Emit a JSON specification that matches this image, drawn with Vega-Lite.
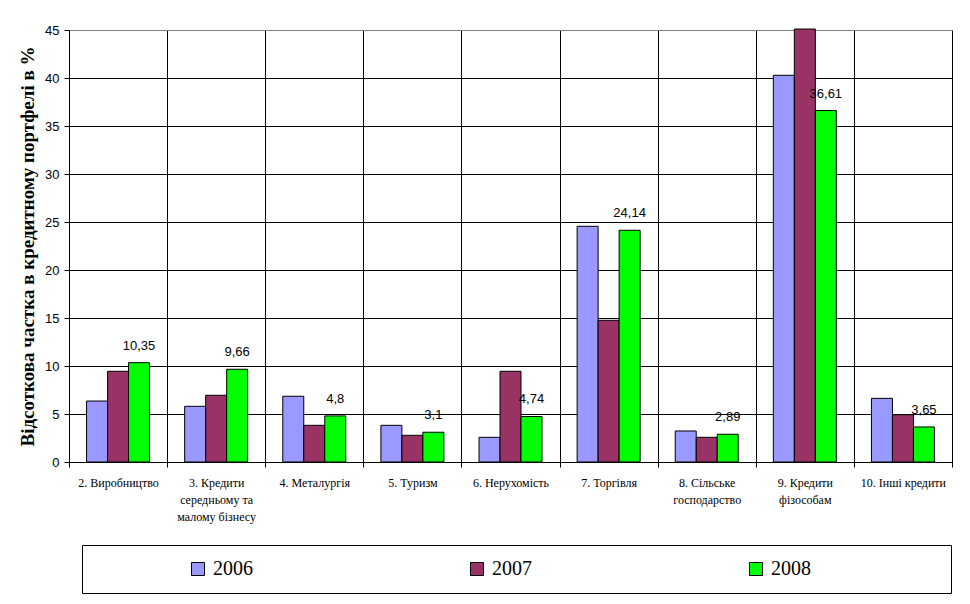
{
  "$schema": "https://vega.github.io/schema/vega-lite/v6.json",
  "width": 883,
  "height": 432,
  "autosize": {"type": "none"},
  "padding": {"left": 69, "top": 30, "right": 18, "bottom": 142},
  "background": "white",
  "config": {
    "view": {"stroke": "#808080", "strokeWidth": 1},
    "locale": {"number": {"decimal": ",", "thousands": " ", "grouping": [3], "currency": ["", ""]}}
  },
  "data": {
    "values": [
      {"category": "2. Виробництво", "year": "2006", "value": 6.35},
      {"category": "2. Виробництво", "year": "2007", "value": 9.45},
      {"category": "2. Виробництво", "year": "2008", "value": 10.35},
      {"category": "3. Кредити|середньому та|малому бізнесу", "year": "2006", "value": 5.8},
      {"category": "3. Кредити|середньому та|малому бізнесу", "year": "2007", "value": 6.95},
      {"category": "3. Кредити|середньому та|малому бізнесу", "year": "2008", "value": 9.66},
      {"category": "4. Металургія", "year": "2006", "value": 6.85},
      {"category": "4. Металургія", "year": "2007", "value": 3.82},
      {"category": "4. Металургія", "year": "2008", "value": 4.8},
      {"category": "5. Туризм", "year": "2006", "value": 3.82},
      {"category": "5. Туризм", "year": "2007", "value": 2.78},
      {"category": "5. Туризм", "year": "2008", "value": 3.1},
      {"category": "6. Нерухомість", "year": "2006", "value": 2.57},
      {"category": "6. Нерухомість", "year": "2007", "value": 9.45},
      {"category": "6. Нерухомість", "year": "2008", "value": 4.74},
      {"category": "7. Торгівля", "year": "2006", "value": 24.55},
      {"category": "7. Торгівля", "year": "2007", "value": 14.76},
      {"category": "7. Торгівля", "year": "2008", "value": 24.14},
      {"category": "8. Сільське|господарство", "year": "2006", "value": 3.23},
      {"category": "8. Сільське|господарство", "year": "2007", "value": 2.57},
      {"category": "8. Сільське|господарство", "year": "2008", "value": 2.89},
      {"category": "9. Кредити|фізособам", "year": "2006", "value": 40.28},
      {"category": "9. Кредити|фізособам", "year": "2007", "value": 45.1},
      {"category": "9. Кредити|фізособам", "year": "2008", "value": 36.61},
      {"category": "10. Інші кредити", "year": "2006", "value": 6.63},
      {"category": "10. Інші кредити", "year": "2007", "value": 4.93},
      {"category": "10. Інші кредити", "year": "2008", "value": 3.65}
    ]
  },
  "encoding": {
    "x": {
      "field": "category",
      "type": "nominal",
      "sort": null,
      "scale": {"paddingInner": 0, "paddingOuter": 0},
      "axis": {
        "title": null,
        "labelAngle": 0,
        "labelExpr": "split(datum.label, '|')",
        "labelFont": "Liberation Serif",
        "labelFontSize": 12,
        "labelColor": "black",
        "labelLineHeight": 17,
        "labelPadding": 10,
        "labelLimit": 200,
        "tickBand": "extent",
        "tickSize": 5,
        "tickColor": "black",
        "domainColor": "black",
        "grid": true,
        "gridColor": "black",
        "gridOpacity": 1
      }
    },
    "xOffset": {"field": "year", "type": "nominal", "scale": {"paddingInner": 0, "paddingOuter": 0.836}},
    "y": {
      "field": "value",
      "type": "quantitative",
      "scale": {"domain": [0, 45], "nice": false},
      "axis": {
        "title": "Відсоткова частка в кредитному портфелі в %",
        "titleFont": "Liberation Serif",
        "titleFontSize": 19,
        "titleFontWeight": "bold",
        "titleColor": "black",
        "titlePadding": 7,
        "values": [0, 5, 10, 15, 20, 25, 30, 35, 40, 45],
        "labelFont": "Liberation Sans",
        "labelFontSize": 13,
        "labelColor": "black",
        "labelPadding": 5,
        "tickSize": 5,
        "tickColor": "black",
        "domainColor": "black",
        "grid": true,
        "gridColor": {"condition": {"test": "datum.value == 45", "value": "#808080"}, "value": "black"},
        "gridOpacity": 1
      }
    }
  },
  "layer": [
    {
      "mark": {"type": "bar", "stroke": "black", "strokeWidth": 1, "clip": false},
      "encoding": {
        "color": {
          "field": "year",
          "type": "nominal",
          "scale": {"domain": ["2006", "2007", "2008"], "range": ["#9999FF", "#993366", "#00FF00"]},
          "legend": {
            "orient": "none",
            "direction": "horizontal",
            "legendX": 13,
            "legendY": 515,
            "padding": 14,
            "strokeColor": "black",
            "fillColor": "white",
            "gridAlign": "all",
            "symbolType": "square",
            "symbolSize": 169,
            "symbolStrokeColor": "black",
            "symbolStrokeWidth": 1,
            "symbolOpacity": 1,
            "symbolOffset": 92,
            "labelOffset": 5,
            "labelFont": "Liberation Serif",
            "labelFontSize": 20,
            "labelColor": "black",
            "columnPadding": 122,
            "title": " ",
            "titleOrient": "right",
            "titleFontSize": 1,
            "titlePadding": 126
          }
        }
      }
    },
    {
      "transform": [{"filter": "datum.year == '2008'"}],
      "mark": {"type": "text", "dy": -17, "font": "Liberation Sans", "fontSize": 13, "color": "black"},
      "encoding": {
        "text": {"field": "value", "type": "quantitative"}
      }
    }
  ]
}
